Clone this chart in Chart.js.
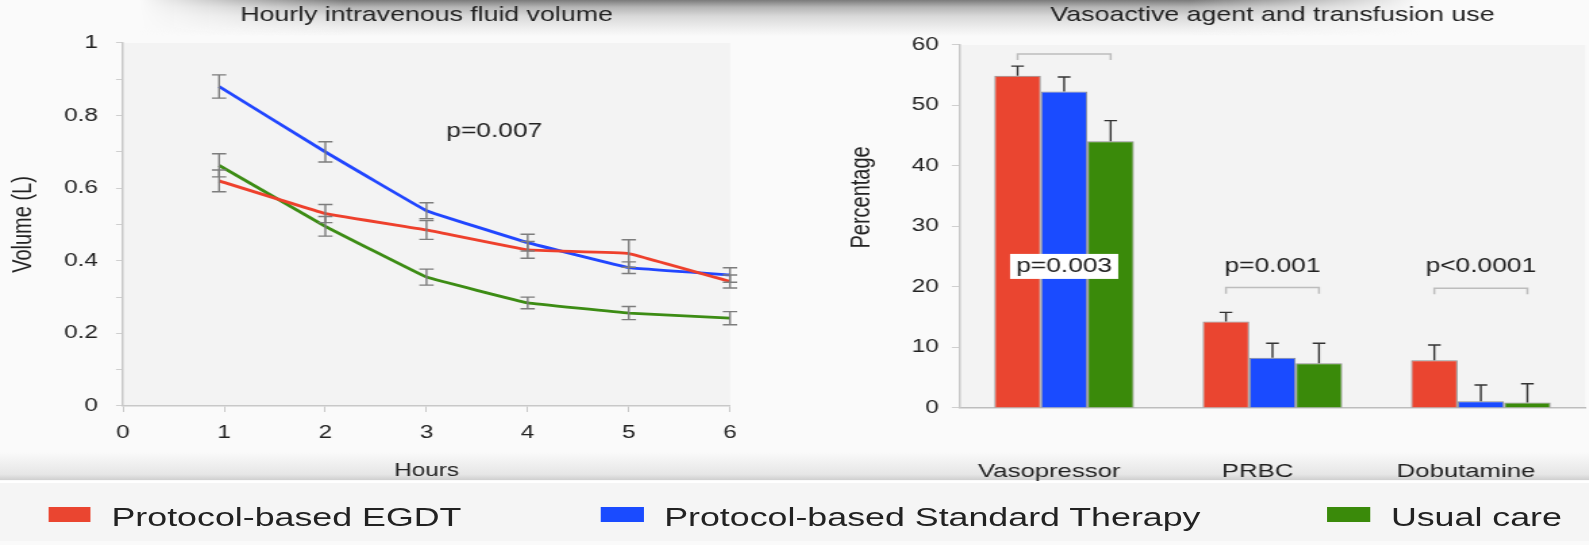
<!DOCTYPE html>
<html>
<head>
<meta charset="utf-8">
<script src="https://cdn.jsdelivr.net/npm/chart.js@4.4.1/dist/chart.umd.min.js"></script>
<style>
    html, body { margin: 0; padding: 0; }
    body { width: 1589px; height: 545px; overflow: hidden; background: #fafafa; position: relative;
           font-family: "Liberation Sans", Arial, sans-serif; }
    #topShade { position: absolute; left: 140px; top: 0; width: 1280px; height: 36px;
        background: linear-gradient(to bottom, #7a7a7a 0%, #b5b5b5 20%, #d9d9d9 45%, #ececec 75%, rgba(250,250,250,0) 100%);
        -webkit-mask-image: linear-gradient(to right, transparent 0, #000 16%, #000 82%, transparent 100%);
        mask-image: linear-gradient(to right, transparent 0, #000 16%, #000 82%, transparent 100%); }
    #bottomShade { position: absolute; left: 0; top: 452px; width: 1589px; height: 28px;
        background: linear-gradient(to bottom, rgba(236,236,236,0) 0%, #e6e6e6 80%, #cfcfcf 100%); }
    #legendPanel { position: absolute; left: 0; top: 481px; width: 1589px; height: 58px;
        background: #f5f5f5; border-top: 2px solid #ffffff; }
    /* the reference is stretched sideways, so the charts are drawn narrower and widened */
    #stage { position: absolute; left: 0; top: 0; width: 1177px; height: 545px;
        transform: scaleX(1.35); transform-origin: 0 0; }
    #fluidBox { position: absolute; left: 0; top: 0; width: 620px; height: 482px; }
    #vasoBox { position: absolute; left: 622.2px; top: 0; width: 554.8px; height: 482px; }
    .item { position: absolute; top: 500px; height: 34px; display: flex; align-items: center;
        font-size: 26.5px; color: #222; white-space: nowrap; }
    .item:nth-child(1) { left: 35.6px; }
    .item:nth-child(2) { left: 445px; }
    .item:nth-child(3) { left: 983.3px; }
    .swatch { width: 31.5px; height: 15px; margin-right: 15.5px; position: relative; top: -2.2px; }
</style>
</head>
<body>
<div id="topShade"></div>
<div id="bottomShade"></div>
<div id="legendPanel"></div>
<div id="stage">
    <div id="fluidBox"><canvas id="fluidChart"></canvas></div>
    <div id="vasoBox"><canvas id="vasoChart"></canvas></div>
    <div id="legend"></div>
</div>
<script>
// series
const seriesNames = ['Protocol-based EGDT', 'Protocol-based Standard Therapy', 'Usual care'];
const lineColors = ['#ee402c', '#2146ff', '#3c8c14'];
const barColors = ['#ea4530', '#1a4bff', '#3a8a0a'];

// hourly fluid volume (L)
const hours = [0.95, 2, 3, 4, 5, 6];
const egdtVolume = [0.62, 0.53, 0.485, 0.43, 0.42, 0.343];
const egdtVolumeErr = [0.03, 0.025, 0.026, 0.023, 0.038, 0.018];
const standardVolume = [0.88, 0.70, 0.538, 0.45, 0.381, 0.361];
const standardVolumeErr = [0.032, 0.028, 0.022, 0.023, 0.016, 0.02];
const usualVolume = [0.663, 0.495, 0.355, 0.284, 0.256, 0.242];
const usualVolumeErr = [0.032, 0.027, 0.022, 0.016, 0.018, 0.018];
const fluidNote = 'p=0.007';
const fluidNoteX = 3.67;
const fluidNoteY = 0.755;

// vasoactive agents and transfusion (%)
const agents = ['Vasopressor', 'PRBC', 'Dobutamine'];
const egdtPct = [54.9, 14.3, 7.9];
const egdtPctErr = [1.6, 1.5, 2.5];
const standardPct = [52.3, 8.3, 1.1];
const standardPctErr = [2.4, 2.4, 2.7];
const usualPct = [44.1, 7.4, 0.9];
const usualPctErr = [3.4, 3.3, 3.1];
const pValues = ['p=0.003', 'p=0.001', 'p<0.0001'];
const pValueY = [23.4, 23.3, 23.3];
const bracketY = [58.5, 19.9, 19.8];
const vasoYTitle = 'Percentage';

const FONT = '"Liberation Sans", Arial, sans-serif';
Chart.defaults.font.family = FONT;
Chart.defaults.color = '#222';

const plotBackground = {
    id: 'plotBackground',
    beforeDraw(chart) {
        const { ctx, chartArea: a } = chart;
        ctx.save();
        ctx.fillStyle = '#f3f3f3';
        ctx.fillRect(a.left, a.top, a.right - a.left, a.bottom - a.top);
        ctx.restore();
    }
};

const fluidExtras = {
    id: 'fluidExtras',
    afterDatasetsDraw(chart) {
        const { ctx, scales: { x, y } } = chart;
        ctx.save();
        ctx.strokeStyle = '#7d7d7d';
        ctx.lineWidth = 1.4;
        chart.data.datasets.forEach(ds => {
            ds.data.forEach((pt, i) => {
                const px = x.getPixelForValue(pt.x);
                const top = y.getPixelForValue(pt.y + ds.errors[i]);
                const bot = y.getPixelForValue(pt.y - ds.errors[i]);
                ctx.beginPath();
                ctx.moveTo(px, top); ctx.lineTo(px, bot);
                ctx.moveTo(px - 5.3, top); ctx.lineTo(px + 5.3, top);
                ctx.moveTo(px - 5.3, bot); ctx.lineTo(px + 5.3, bot);
                ctx.stroke();
            });
        });
        ctx.fillStyle = '#222';
        ctx.font = '19.5px ' + FONT;
        ctx.textAlign = 'center';
        ctx.textBaseline = 'middle';
        ctx.fillText(fluidNote, x.getPixelForValue(fluidNoteX), y.getPixelForValue(fluidNoteY));
        ctx.restore();
    }
};

const vasoExtras = {
    id: 'vasoExtras',
    afterDatasetsDraw(chart) {
        const { ctx, scales: { x, y } } = chart;
        const metas = chart.data.datasets.map((ds, d) => chart.getDatasetMeta(d));
        ctx.save();
        // error bars, upper half only
        ctx.strokeStyle = '#333';
        ctx.lineWidth = 1.4;
        chart.data.datasets.forEach((ds, d) => {
            metas[d].data.forEach((bar, i) => {
                const top = y.getPixelForValue(ds.data[i] + ds.errors[i]);
                ctx.beginPath();
                ctx.moveTo(bar.x, bar.y); ctx.lineTo(bar.x, top);
                ctx.moveTo(bar.x - 4.7, top); ctx.lineTo(bar.x + 4.7, top);
                ctx.stroke();
            });
        });
        // comparison brackets
        ctx.strokeStyle = '#bdbdbd';
        ctx.lineWidth = 1.5;
        agents.forEach((a, i) => {
            const x0 = metas[0].data[i].x;
            const x1 = metas[metas.length - 1].data[i].x;
            const yb = y.getPixelForValue(bracketY[i]);
            const yl = y.getPixelForValue(bracketY[i] - 1);
            ctx.beginPath();
            ctx.moveTo(x0, yl); ctx.lineTo(x0, yb); ctx.lineTo(x1, yb); ctx.lineTo(x1, yl);
            ctx.stroke();
        });
        // p values
        ctx.font = '19.5px ' + FONT;
        ctx.textAlign = 'center';
        ctx.textBaseline = 'middle';
        agents.forEach((a, i) => {
            const cx = x.getPixelForValue(i);
            const cy = y.getPixelForValue(pValueY[i]);
            const tallest = Math.max(egdtPct[i], standardPct[i], usualPct[i]);
            if (pValueY[i] < tallest) {
                const w = ctx.measureText(pValues[i]).width + 9;
                ctx.fillStyle = '#ffffff';
                ctx.fillRect(cx - w / 2, cy - 12.5, w, 25);
            }
            ctx.fillStyle = '#222';
            ctx.fillText(pValues[i], cx, cy);
        });
        // y title sits above the middle of the axis in the original
        const area = chart.chartArea;
        ctx.translate(y.left + 16.3, area.top + (area.bottom - area.top) * 0.42);
        ctx.rotate(-Math.PI / 2);
        ctx.font = '20px ' + FONT;
        ctx.fillText(vasoYTitle, 0, 0);
        ctx.restore();
    }
};

const toPoints = vals => vals.map((v, i) => ({ x: hours[i], y: v }));

new Chart(document.getElementById('fluidChart'), {
    type: 'line',
    data: {
        datasets: [
            { label: seriesNames[0], data: toPoints(egdtVolume), errors: egdtVolumeErr, borderColor: lineColors[0] },
            { label: seriesNames[1], data: toPoints(standardVolume), errors: standardVolumeErr, borderColor: lineColors[1] },
            { label: seriesNames[2], data: toPoints(usualVolume), errors: usualVolumeErr, borderColor: lineColors[2] }
        ]
    },
    options: {
        responsive: true,
        maintainAspectRatio: false,
        animation: false,
        elements: {
            line: { borderWidth: 2.8, tension: 0.05, fill: false },
            point: { radius: 0 }
        },
        layout: { padding: { left: 0, right: 79.3, top: 0, bottom: 0 } },
        plugins: {
            legend: { display: false },
            tooltip: { enabled: false },
            title: {
                display: true,
                fullSize: false,
                text: 'Hourly intravenous fluid volume',
                font: { size: 19.8, weight: 'normal' },
                color: '#222',
                padding: { top: 3.5, bottom: 15.7 }
            }
        },
        scales: {
            x: {
                type: 'linear',
                min: 0, max: 6,
                ticks: { stepSize: 1, padding: 10, font: { size: 18 }, color: '#222' },
                grid: { drawOnChartArea: false, tickLength: 6, color: '#c8c8c8' },
                border: { color: '#c8c8c8', width: 1.5 },
                title: { display: true, text: 'Hours', font: { size: 18 }, color: '#222', padding: { top: 0, bottom: 0.2 } },
                afterFit: s => { s.height = 76; }
            },
            y: {
                min: 0, max: 1,
                ticks: {
                    stepSize: 0.1, padding: 13.3, font: { size: 18 }, color: '#222',
                    callback: v => (Math.round(v * 10) % 2 === 0 ? String(Math.round(v * 10) / 10) : '')
                },
                grid: { drawOnChartArea: false, tickLength: 5.2, color: '#cfcfcf' },
                border: { color: '#c8c8c8', width: 1.5 },
                title: { display: true, text: 'Volume (L)', font: { size: 20 }, color: '#222', padding: { top: 5.8, bottom: 0 } },
                afterFit: s => { s.width = 91.1; }
            }
        }
    },
    plugins: [plotBackground, fluidExtras]
});

new Chart(document.getElementById('vasoChart'), {
    type: 'bar',
    data: {
        labels: agents,
        datasets: [
            { label: seriesNames[0], data: egdtPct, errors: egdtPctErr, backgroundColor: barColors[0] },
            { label: seriesNames[1], data: standardPct, errors: standardPctErr, backgroundColor: barColors[1] },
            { label: seriesNames[2], data: usualPct, errors: usualPctErr, backgroundColor: barColors[2] }
        ]
    },
    options: {
        responsive: true,
        maintainAspectRatio: false,
        animation: false,
        datasets: {
            bar: {
                barPercentage: 1,
                categoryPercentage: 0.67,
                borderWidth: 1,
                borderColor: 'rgba(60,60,60,0.55)'
            }
        },
        layout: { padding: { left: 0, right: 3.7, top: 0, bottom: 0 } },
        plugins: {
            legend: { display: false },
            tooltip: { enabled: false },
            title: {
                display: true,
                fullSize: false,
                text: 'Vasoactive agent and transfusion use',
                font: { size: 19.8, weight: 'normal' },
                color: '#222',
                padding: { top: 3.5, bottom: 17.7 }
            }
        },
        scales: {
            x: {
                ticks: { padding: 0, labelOffset: -11, font: { size: 19 }, color: '#222' },
                grid: { drawOnChartArea: false, drawTicks: true, tickLength: 52.5, color: 'rgba(0,0,0,0)' },
                border: { display: true, color: '#bdbdbd', width: 1.5 },
                afterFit: s => { s.height = 74; }
            },
            y: {
                min: 0, max: 60,
                ticks: { stepSize: 10, padding: 9.6, font: { size: 18 }, color: '#222' },
                grid: { drawOnChartArea: false, tickLength: 6, color: '#cfcfcf' },
                border: { color: '#c8c8c8', width: 1.5 },
                afterFit: s => { s.width = 88.9; }
            }
        }
    },
    plugins: [plotBackground, vasoExtras]
});

// shared legend under both charts
const legend = document.getElementById('legend');
seriesNames.forEach((name, i) => {
    const item = document.createElement('div');
    item.className = 'item';
    const sw = document.createElement('span');
    sw.className = 'swatch';
    sw.style.background = barColors[i];
    item.appendChild(sw);
    item.appendChild(document.createTextNode(name));
    legend.appendChild(item);
});
</script>
</body>
</html>
